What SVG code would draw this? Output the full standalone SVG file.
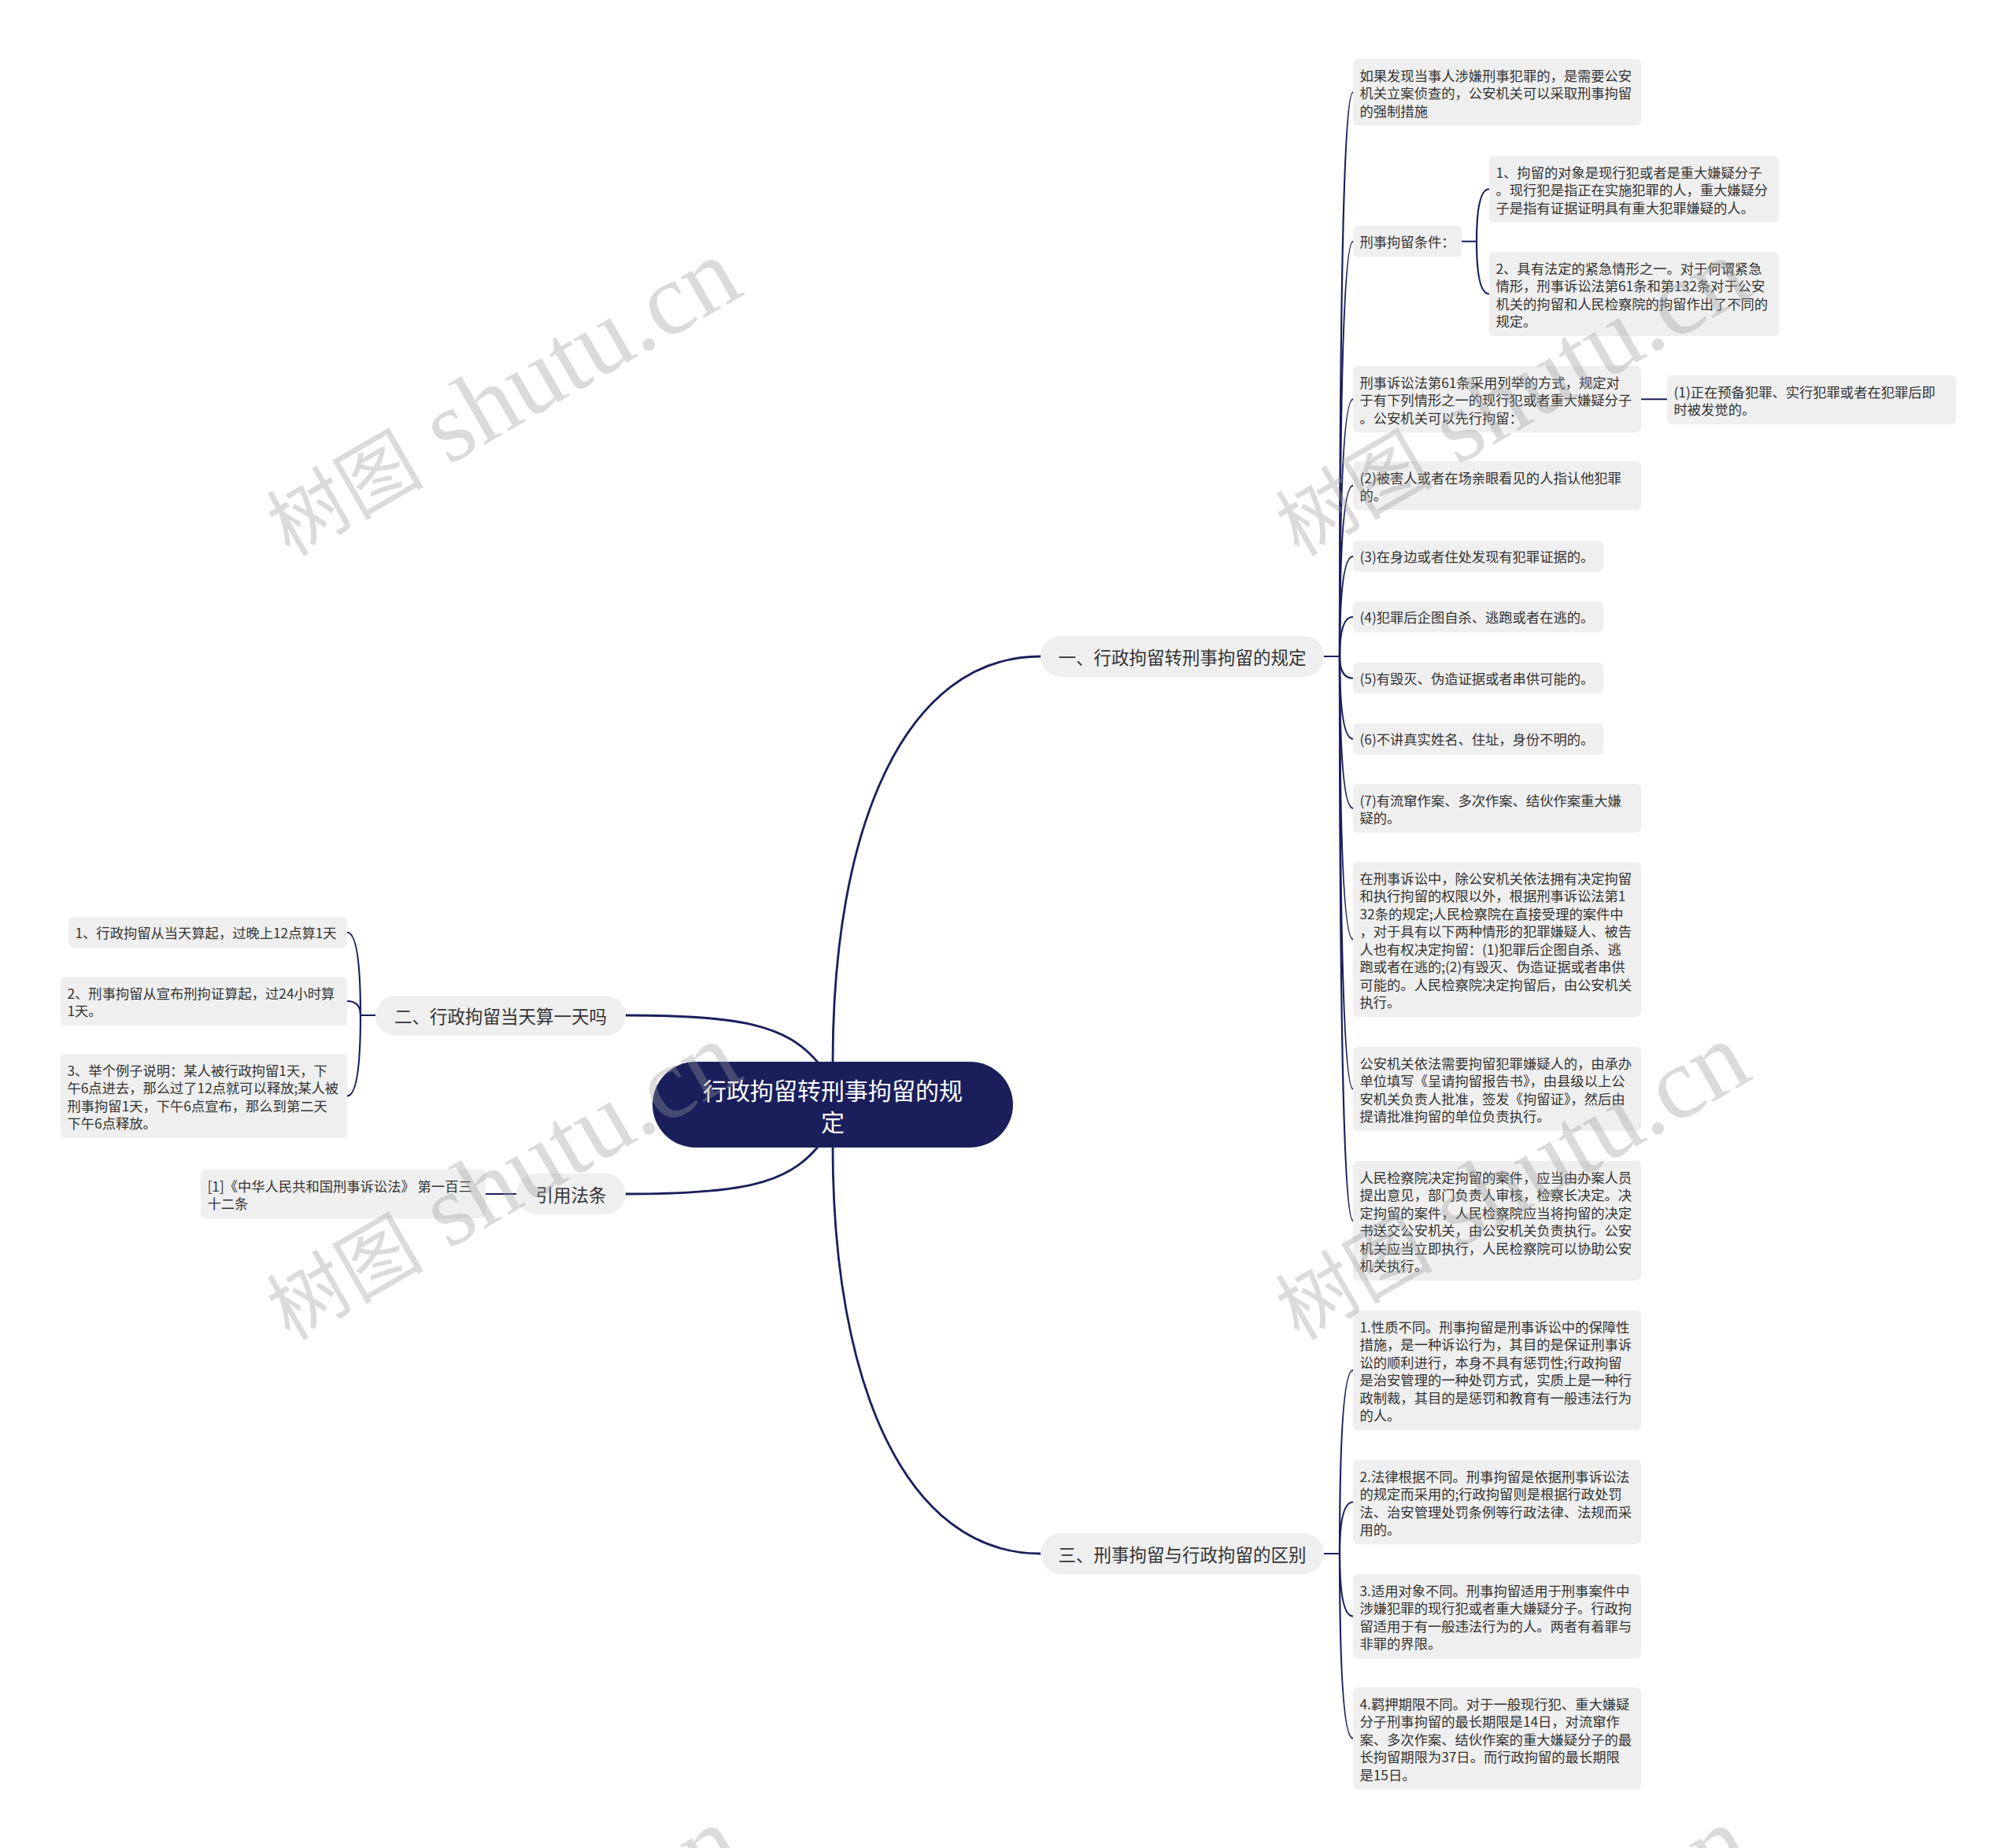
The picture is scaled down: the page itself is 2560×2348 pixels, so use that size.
<svg xmlns="http://www.w3.org/2000/svg" width="2560" height="2348" viewBox="0 0 2560 2348">
<style>
.box{fill:#efefef;}
.pill{fill:#efefef;}
.t{font-family:"Noto Sans CJK SC","Noto Sans",sans-serif;font-size:17.3px;fill:#333333;dominant-baseline:central;}
.pt{font-family:"Noto Sans CJK SC","Noto Sans",sans-serif;font-size:22.5px;fill:#333333;dominant-baseline:central;text-anchor:middle;}
.ct{font-family:"Noto Sans CJK SC","Noto Sans",sans-serif;font-size:30px;fill:#ffffff;dominant-baseline:central;text-anchor:middle;}
.c{fill:none;stroke:#1a1f5c;stroke-width:2.2;stroke-linecap:round;}
.m{fill:none;stroke:#1a1f5c;stroke-width:2.8;stroke-linecap:round;}
.wm{font-family:"Liberation Serif","Noto Sans CJK SC",serif;fill:#9a9a9a;opacity:0.35;}
</style>
<rect width="2560" height="2348" fill="#ffffff"/>
<g id="connectors">
<path class="m" d="M1058,1349 C1058,1050 1150,834 1322,834"/>
<path class="m" d="M1058,1458 C1058,1757 1150,1974 1322,1974"/>
<path class="m" d="M1040,1351 C1000,1302 940,1290 795,1290"/>
<path class="m" d="M1040,1456 C1000,1505 940,1517 795,1517"/>
<path class="c" d="M1682,834 L1702,834"/>
<path class="c" d="M1702,834 Q1702,117.25 1719,117.25"/>
<path class="c" d="M1702,834 Q1702,306.75 1719,306.75"/>
<path class="c" d="M1702,834 Q1702,507.25 1719,507.25"/>
<path class="c" d="M1702,834 Q1702,617 1719,617"/>
<path class="c" d="M1702,834 Q1702,706.75 1719,706.75"/>
<path class="c" d="M1702,834 Q1702,783.75 1719,783.75"/>
<path class="c" d="M1702,834 Q1702,861.75 1719,861.75"/>
<path class="c" d="M1702,834 Q1702,938.75 1719,938.75"/>
<path class="c" d="M1702,834 Q1702,1027 1719,1027"/>
<path class="c" d="M1702,834 Q1702,1193.5 1719,1193.5"/>
<path class="c" d="M1702,834 Q1702,1383.5 1719,1383.5"/>
<path class="c" d="M1702,834 Q1702,1551 1719,1551"/>
<path class="c" d="M1857,306.75 L1876,306.75"/>
<path class="c" d="M1876,306.75 Q1876,240.25 1892,240.25"/>
<path class="c" d="M1876,306.75 Q1876,373.5 1892,373.5"/>
<path class="c" d="M2085,507.25 L2118,507.25"/>
<path class="c" d="M1682,1974 L1702,1974"/>
<path class="c" d="M1702,1974 Q1702,1741 1719,1741"/>
<path class="c" d="M1702,1974 Q1702,1908.5 1719,1908.5"/>
<path class="c" d="M1702,1974 Q1702,2053.5 1719,2053.5"/>
<path class="c" d="M1702,1974 Q1702,2208.75 1719,2208.75"/>
<path class="c" d="M477,1290 L458,1290"/>
<path class="c" d="M458,1290 Q458,1184.75 441,1184.75"/>
<path class="c" d="M458,1290 Q458,1272 441,1272"/>
<path class="c" d="M458,1290 Q458,1392.5 441,1392.5"/>
<path class="c" d="M656,1517 L617,1517"/>
</g>
<g id="center">
<rect x="829" y="1349" width="458" height="109" rx="54.5" fill="#1a1f5c"/>
<text class="ct"><tspan x="1058" y="1384">行政拘留转刑事拘留的规</tspan><tspan x="1058" y="1424">定</tspan></text>
</g>
<g id="b1">
<rect class="pill" x="1322" y="808" width="360" height="52" rx="26"/>
<text class="pt" x="1502" y="834">一、行政拘留转刑事拘留的规定</text>
</g>
<g id="b3">
<rect class="pill" x="1322" y="1948" width="360" height="52" rx="26"/>
<text class="pt" x="1502" y="1974">三、刑事拘留与行政拘留的区别</text>
</g>
<g id="b2">
<rect class="pill" x="477" y="1265" width="318" height="51" rx="25.5"/>
<text class="pt" x="636" y="1290">二、行政拘留当天算一天吗</text>
</g>
<g id="b4">
<rect class="pill" x="656" y="1491" width="139" height="52" rx="26"/>
<text class="pt" x="725.5" y="1517">引用法条</text>
</g>
<g id="n1">
<rect class="box" x="1719" y="75" width="366" height="84.5" rx="6"/>
<text class="t"><tspan x="1727.5" y="94.75">如果发现当事人涉嫌刑事犯罪的，是需要公安</tspan><tspan x="1727.5" y="117.25">机关立案侦查的，公安机关可以采取刑事拘留</tspan><tspan x="1727.5" y="139.75">的强制措施</tspan></text>
</g>
<g id="n2">
<rect class="box" x="1719" y="287" width="138" height="39.5" rx="6"/>
<text class="t" x="1727.5" y="306.75">刑事拘留条件：</text>
</g>
<g id="n2a">
<rect class="box" x="1892" y="198" width="368" height="84.5" rx="6"/>
<text class="t"><tspan x="1900.5" y="217.75">1、拘留的对象是现行犯或者是重大嫌疑分子</tspan><tspan x="1900.5" y="240.25">。现行犯是指正在实施犯罪的人，重大嫌疑分</tspan><tspan x="1900.5" y="262.75">子是指有证据证明具有重大犯罪嫌疑的人。</tspan></text>
</g>
<g id="n2b">
<rect class="box" x="1892" y="320" width="368" height="107" rx="6"/>
<text class="t"><tspan x="1900.5" y="339.75">2、具有法定的紧急情形之一。对于何谓紧急</tspan><tspan x="1900.5" y="362.25">情形，刑事诉讼法第61条和第132条对于公安</tspan><tspan x="1900.5" y="384.75">机关的拘留和人民检察院的拘留作出了不同的</tspan><tspan x="1900.5" y="407.25">规定。</tspan></text>
</g>
<g id="n3">
<rect class="box" x="1719" y="465" width="366" height="84.5" rx="6"/>
<text class="t"><tspan x="1727.5" y="484.75">刑事诉讼法第61条采用列举的方式，规定对</tspan><tspan x="1727.5" y="507.25">于有下列情形之一的现行犯或者重大嫌疑分子</tspan><tspan x="1727.5" y="529.75">。公安机关可以先行拘留：</tspan></text>
</g>
<g id="n3a">
<rect class="box" x="2118" y="477" width="367" height="62" rx="6"/>
<text class="t"><tspan x="2126.5" y="496.75">(1)正在预备犯罪、实行犯罪或者在犯罪后即</tspan><tspan x="2126.5" y="519.25">时被发觉的。</tspan></text>
</g>
<g id="n4">
<rect class="box" x="1719" y="586" width="366" height="62" rx="6"/>
<text class="t"><tspan x="1727.5" y="605.75">(2)被害人或者在场亲眼看见的人指认他犯罪</tspan><tspan x="1727.5" y="628.25">的。</tspan></text>
</g>
<g id="n5">
<rect class="box" x="1719" y="687" width="318" height="39.5" rx="6"/>
<text class="t" x="1727.5" y="706.75">(3)在身边或者住处发现有犯罪证据的。</text>
</g>
<g id="n6">
<rect class="box" x="1719" y="764" width="318" height="39.5" rx="6"/>
<text class="t" x="1727.5" y="783.75">(4)犯罪后企图自杀、逃跑或者在逃的。</text>
</g>
<g id="n7">
<rect class="box" x="1719" y="842" width="318" height="39.5" rx="6"/>
<text class="t" x="1727.5" y="861.75">(5)有毁灭、伪造证据或者串供可能的。</text>
</g>
<g id="n8">
<rect class="box" x="1719" y="919" width="318" height="39.5" rx="6"/>
<text class="t" x="1727.5" y="938.75">(6)不讲真实姓名、住址，身份不明的。</text>
</g>
<g id="n9">
<rect class="box" x="1719" y="996" width="366" height="62" rx="6"/>
<text class="t"><tspan x="1727.5" y="1015.75">(7)有流窜作案、多次作案、结伙作案重大嫌</tspan><tspan x="1727.5" y="1038.25">疑的。</tspan></text>
</g>
<g id="n10">
<rect class="box" x="1719" y="1095" width="366" height="197" rx="6"/>
<text class="t"><tspan x="1727.5" y="1114.75">在刑事诉讼中，除公安机关依法拥有决定拘留</tspan><tspan x="1727.5" y="1137.25">和执行拘留的权限以外，根据刑事诉讼法第1</tspan><tspan x="1727.5" y="1159.75">32条的规定;人民检察院在直接受理的案件中</tspan><tspan x="1727.5" y="1182.25">，对于具有以下两种情形的犯罪嫌疑人、被告</tspan><tspan x="1727.5" y="1204.75">人也有权决定拘留：(1)犯罪后企图自杀、逃</tspan><tspan x="1727.5" y="1227.25">跑或者在逃的;(2)有毁灭、伪造证据或者串供</tspan><tspan x="1727.5" y="1249.75">可能的。人民检察院决定拘留后，由公安机关</tspan><tspan x="1727.5" y="1272.25">执行。</tspan></text>
</g>
<g id="n11">
<rect class="box" x="1719" y="1330" width="366" height="107" rx="6"/>
<text class="t"><tspan x="1727.5" y="1349.75">公安机关依法需要拘留犯罪嫌疑人的，由承办</tspan><tspan x="1727.5" y="1372.25">单位填写《呈请拘留报告书》，由县级以上公</tspan><tspan x="1727.5" y="1394.75">安机关负责人批准，签发《拘留证》，然后由</tspan><tspan x="1727.5" y="1417.25">提请批准拘留的单位负责执行。</tspan></text>
</g>
<g id="n12">
<rect class="box" x="1719" y="1475" width="366" height="152" rx="6"/>
<text class="t"><tspan x="1727.5" y="1494.75">人民检察院决定拘留的案件，应当由办案人员</tspan><tspan x="1727.5" y="1517.25">提出意见，部门负责人审核，检察长决定。决</tspan><tspan x="1727.5" y="1539.75">定拘留的案件，人民检察院应当将拘留的决定</tspan><tspan x="1727.5" y="1562.25">书送交公安机关，由公安机关负责执行。公安</tspan><tspan x="1727.5" y="1584.75">机关应当立即执行，人民检察院可以协助公安</tspan><tspan x="1727.5" y="1607.25">机关执行。</tspan></text>
</g>
<g id="m1">
<rect class="box" x="1719" y="1665" width="366" height="152" rx="6"/>
<text class="t"><tspan x="1727.5" y="1684.75">1.性质不同。刑事拘留是刑事诉讼中的保障性</tspan><tspan x="1727.5" y="1707.25">措施，是一种诉讼行为，其目的是保证刑事诉</tspan><tspan x="1727.5" y="1729.75">讼的顺利进行，本身不具有惩罚性;行政拘留</tspan><tspan x="1727.5" y="1752.25">是治安管理的一种处罚方式，实质上是一种行</tspan><tspan x="1727.5" y="1774.75">政制裁，其目的是惩罚和教育有一般违法行为</tspan><tspan x="1727.5" y="1797.25">的人。</tspan></text>
</g>
<g id="m2">
<rect class="box" x="1719" y="1855" width="366" height="107" rx="6"/>
<text class="t"><tspan x="1727.5" y="1874.75">2.法律根据不同。刑事拘留是依据刑事诉讼法</tspan><tspan x="1727.5" y="1897.25">的规定而采用的;行政拘留则是根据行政处罚</tspan><tspan x="1727.5" y="1919.75">法、治安管理处罚条例等行政法律、法规而采</tspan><tspan x="1727.5" y="1942.25">用的。</tspan></text>
</g>
<g id="m3">
<rect class="box" x="1719" y="2000" width="366" height="107" rx="6"/>
<text class="t"><tspan x="1727.5" y="2019.75">3.适用对象不同。刑事拘留适用于刑事案件中</tspan><tspan x="1727.5" y="2042.25">涉嫌犯罪的现行犯或者重大嫌疑分子。行政拘</tspan><tspan x="1727.5" y="2064.75">留适用于有一般违法行为的人。两者有着罪与</tspan><tspan x="1727.5" y="2087.25">非罪的界限。</tspan></text>
</g>
<g id="m4">
<rect class="box" x="1719" y="2144" width="366" height="129.5" rx="6"/>
<text class="t"><tspan x="1727.5" y="2163.75">4.羁押期限不同。对于一般现行犯、重大嫌疑</tspan><tspan x="1727.5" y="2186.25">分子刑事拘留的最长期限是14日，对流窜作</tspan><tspan x="1727.5" y="2208.75">案、多次作案、结伙作案的重大嫌疑分子的最</tspan><tspan x="1727.5" y="2231.25">长拘留期限为37日。而行政拘留的最长期限</tspan><tspan x="1727.5" y="2253.75">是15日。</tspan></text>
</g>
<g id="l1">
<rect class="box" x="87" y="1165" width="354" height="39.5" rx="6"/>
<text class="t" x="95.5" y="1184.75">1、行政拘留从当天算起，过晚上12点算1天</text>
</g>
<g id="l2">
<rect class="box" x="77" y="1241" width="364" height="62" rx="6"/>
<text class="t"><tspan x="85.5" y="1260.75">2、刑事拘留从宣布刑拘证算起，过24小时算</tspan><tspan x="85.5" y="1283.25">1天。</tspan></text>
</g>
<g id="l3">
<rect class="box" x="77" y="1339" width="364" height="107" rx="6"/>
<text class="t"><tspan x="85.5" y="1358.75">3、举个例子说明：某人被行政拘留1天，下</tspan><tspan x="85.5" y="1381.25">午6点进去，那么过了12点就可以释放;某人被</tspan><tspan x="85.5" y="1403.75">刑事拘留1天，下午6点宣布，那么到第二天</tspan><tspan x="85.5" y="1426.25">下午6点释放。</tspan></text>
</g>
<g id="r1">
<rect class="box" x="255" y="1486" width="362" height="62" rx="6"/>
<text class="t"><tspan x="263.5" y="1505.75">[1]《中华人民共和国刑事诉讼法》 第一百三</tspan><tspan x="263.5" y="1528.25">十二条</tspan></text>
</g>
<g id="watermarks">
<text class="wm" transform="translate(368,708) rotate(-30)"><tspan font-size="100">树图</tspan><tspan font-size="130"> shutu.cn</tspan></text>
<text class="wm" transform="translate(1650,708) rotate(-30)"><tspan font-size="100">树图</tspan><tspan font-size="130"> shutu.cn</tspan></text>
<text class="wm" transform="translate(368,1704) rotate(-30)"><tspan font-size="100">树图</tspan><tspan font-size="130"> shutu.cn</tspan></text>
<text class="wm" transform="translate(1650,1704) rotate(-30)"><tspan font-size="100">树图</tspan><tspan font-size="130"> shutu.cn</tspan></text>
<text class="wm" transform="translate(368,2700) rotate(-30)"><tspan font-size="100">树图</tspan><tspan font-size="130"> shutu.cn</tspan></text>
<text class="wm" transform="translate(1650,2700) rotate(-30)"><tspan font-size="100">树图</tspan><tspan font-size="130"> shutu.cn</tspan></text>
</g>
</svg>
